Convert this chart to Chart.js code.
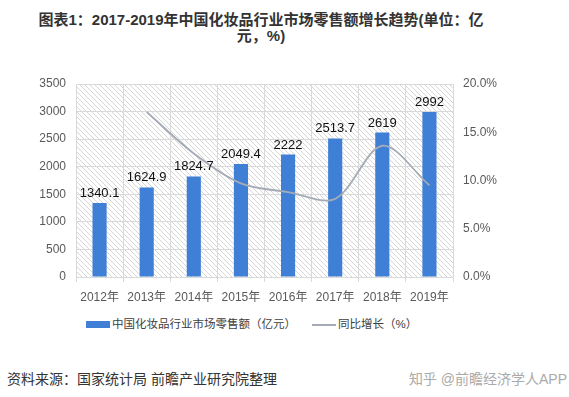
<!DOCTYPE html>
<html>
<head>
<meta charset="utf-8">
<script src="https://cdn.jsdelivr.net/npm/chart.js@4.4.0/dist/chart.umd.min.js"></script>
<style>
  body { margin: 0; width: 569px; height: 397px; background: #fff; position: relative; overflow: hidden;
         font-family: "Liberation Sans", "Noto Sans CJK SC", sans-serif; }
  #title { position: absolute; left: 0; top: 12px; width: 522px; text-align: center; font-weight: bold;
           font-size: 15px; line-height: 16px; color: #333; }
  #wrap { position: absolute; left: 0; top: 55px; width: 569px; height: 250px; }
  .leg { position: absolute; top: 315px; font-size: 11.5px; color: #404040; white-space: nowrap; }
  .sw { display: inline-block; vertical-align: middle; margin-right: 2px; }
  #src { position: absolute; left: 7px; top: 368px; font-size: 14px; color: #333; }
  #wm { position: absolute; right: 2px; top: 368px; font-size: 14px; color: #aaa; }
</style>
</head>
<body>
<div id="title">图表1：2017-2019年中国化妆品行业市场零售额增长趋势(单位：亿<br>元，%)</div>
<div id="wrap"><canvas id="chart"></canvas></div>
<div class="leg" style="left:86px"><span class="sw" style="width:24px;height:7px;background:#3f7fd6"></span>中国化妆品行业市场零售额（亿元）</div>
<div class="leg" style="left:312px"><span class="sw" style="width:24px;height:2px;background:#a4abb6"></span>同比增长（%）</div>
<div id="src">资料来源：国家统计局 前瞻产业研究院整理</div>
<div id="wm">知乎 @前瞻经济学人APP</div>
<script>
const years = ['2012年', '2013年', '2014年', '2015年', '2016年', '2017年', '2018年', '2019年'];
const sales = [1340.1, 1624.9, 1824.7, 2049.4, 2222, 2513.7, 2619, 2992];
const growth = [null, 17.1, 12.8, 9.7, 8.8, 8.1, 13.6, 9.5];

// diagonal hatch for the plot background
const pc = document.createElement('canvas');
pc.width = 5; pc.height = 5;
const px = pc.getContext('2d');
px.strokeStyle = '#d6d6d6';
px.lineWidth = 1;
px.beginPath();
px.moveTo(-1, -1); px.lineTo(6, 6);
px.moveTo(-1, 4); px.lineTo(1, 6);
px.moveTo(4, -1); px.lineTo(6, 1);
px.stroke();

const hatch = {
  id: 'hatch',
  beforeDraw(chart) {
    const a = chart.chartArea, ctx = chart.ctx;
    ctx.save();
    ctx.fillStyle = ctx.createPattern(pc, 'repeat');
    ctx.fillRect(a.left, a.top, a.right - a.left, a.bottom - a.top);
    ctx.restore();
  }
};

const barLabels = {
  id: 'barLabels',
  afterDatasetsDraw(chart) {
    const ctx = chart.ctx;
    const meta = chart.getDatasetMeta(0);
    ctx.save();
    ctx.font = '13px "Liberation Sans", sans-serif';
    ctx.fillStyle = '#111';
    ctx.textAlign = 'center';
    ctx.textBaseline = 'bottom';
    meta.data.forEach((bar, i) => {
      ctx.fillText(String(sales[i]), bar.x, bar.y - 3);
    });
    ctx.restore();
  }
};

const tickFont = { family: '"Liberation Sans", "Noto Sans CJK SC", sans-serif', size: 12 };

new Chart(document.getElementById('chart'), {
  type: 'bar',
  data: {
    labels: years,
    datasets: [{
      type: 'bar',
      data: sales,
      backgroundColor: '#3f7fd6',
      categoryPercentage: 1,
      barPercentage: 0.3,
      yAxisID: 'y',
      order: 2
    }, {
      type: 'line',
      data: growth,
      borderColor: '#a4abb6',
      borderWidth: 1.8,
      pointRadius: 0,
      tension: 0.32,
      yAxisID: 'y1',
      order: 1
    }]
  },
  options: {
    responsive: true,
    maintainAspectRatio: false,
    animation: false,
    layout: { padding: { top: 29, bottom: 0, left: 0, right: 0 } },
    plugins: { legend: { display: false }, tooltip: { enabled: false } },
    scales: {
      x: {
        grid: { color: '#d9d9d9', tickLength: 5, drawOnChartArea: true },
        border: { color: '#d9d9d9' },
        ticks: { color: '#595959', font: tickFont, padding: 8 },
        afterFit(s) { s.height = 28; }
      },
      y: {
        min: 0, max: 3500,
        ticks: { stepSize: 500, color: '#595959', font: tickFont, padding: 10,
                 callback: v => String(v) },
        grid: { color: '#d9d9d9', drawTicks: false },
        border: { display: false },
        afterFit(s) { s.width = 76; }
      },
      y1: {
        position: 'right',
        min: 0, max: 20,
        ticks: { stepSize: 5, color: '#595959', font: tickFont, padding: 10,
                 callback: v => v.toFixed(1) + '%' },
        grid: { drawOnChartArea: false, drawTicks: false },
        border: { display: false },
        afterFit(s) { s.width = 116; }
      }
    }
  },
  plugins: [hatch, barLabels]
});
</script>
</body>
</html>
